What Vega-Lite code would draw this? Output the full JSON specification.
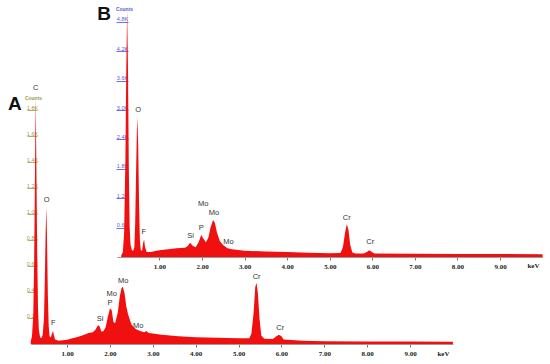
{
  "$schema": "https://vega.github.io/schema/vega-lite/v6.json",
  "width": 550,
  "height": 364,
  "padding": 0,
  "autosize": {"type": "none"},
  "background": "white",
  "config": {"view": {"stroke": null}},
  "datasets": {
    "specA": [
      {"keV": 0.15, "counts": 0.02}, {"keV": 0.18, "counts": 0.06}, {"keV": 0.21, "counts": 0.22},
      {"keV": 0.23, "counts": 0.62}, {"keV": 0.25, "counts": 1.3}, {"keV": 0.265, "counts": 1.9},
      {"keV": 0.28, "counts": 1.45}, {"keV": 0.3, "counts": 0.75}, {"keV": 0.32, "counts": 0.28},
      {"keV": 0.34, "counts": 0.11}, {"keV": 0.37, "counts": 0.05}, {"keV": 0.4, "counts": 0.045},
      {"keV": 0.43, "counts": 0.07}, {"keV": 0.46, "counts": 0.2}, {"keV": 0.48, "counts": 0.5},
      {"keV": 0.5, "counts": 0.88}, {"keV": 0.515, "counts": 1.05}, {"keV": 0.53, "counts": 0.82},
      {"keV": 0.55, "counts": 0.38}, {"keV": 0.57, "counts": 0.14}, {"keV": 0.59, "counts": 0.06},
      {"keV": 0.62, "counts": 0.05}, {"keV": 0.65, "counts": 0.085}, {"keV": 0.67, "counts": 0.1},
      {"keV": 0.69, "counts": 0.07}, {"keV": 0.72, "counts": 0.035}, {"keV": 0.8, "counts": 0.025},
      {"keV": 0.9, "counts": 0.028}, {"keV": 1.0, "counts": 0.032}, {"keV": 1.1, "counts": 0.042},
      {"keV": 1.2, "counts": 0.05}, {"keV": 1.3, "counts": 0.06}, {"keV": 1.4, "counts": 0.072},
      {"keV": 1.5, "counts": 0.085}, {"keV": 1.6, "counts": 0.09}, {"keV": 1.66, "counts": 0.11},
      {"keV": 1.72, "counts": 0.145}, {"keV": 1.76, "counts": 0.135}, {"keV": 1.8, "counts": 0.095},
      {"keV": 1.85, "counts": 0.1}, {"keV": 1.9, "counts": 0.13}, {"keV": 1.95, "counts": 0.21},
      {"keV": 2.0, "counts": 0.275}, {"keV": 2.04, "counts": 0.26}, {"keV": 2.08, "counts": 0.17},
      {"keV": 2.12, "counts": 0.16}, {"keV": 2.18, "counts": 0.24}, {"keV": 2.23, "counts": 0.37},
      {"keV": 2.27, "counts": 0.43}, {"keV": 2.3, "counts": 0.44}, {"keV": 2.34, "counts": 0.39},
      {"keV": 2.38, "counts": 0.29}, {"keV": 2.42, "counts": 0.23}, {"keV": 2.46, "counts": 0.19},
      {"keV": 2.5, "counts": 0.15}, {"keV": 2.6, "counts": 0.115}, {"keV": 2.7, "counts": 0.1},
      {"keV": 2.8, "counts": 0.09}, {"keV": 2.85, "counts": 0.1}, {"keV": 2.9, "counts": 0.085},
      {"keV": 3.0, "counts": 0.08}, {"keV": 3.2, "counts": 0.072}, {"keV": 3.4, "counts": 0.066},
      {"keV": 3.6, "counts": 0.06}, {"keV": 3.8, "counts": 0.056}, {"keV": 4.0, "counts": 0.052},
      {"keV": 4.5, "counts": 0.048}, {"keV": 5.0, "counts": 0.045}, {"keV": 5.25, "counts": 0.045},
      {"keV": 5.3, "counts": 0.08}, {"keV": 5.35, "counts": 0.24}, {"keV": 5.39, "counts": 0.44},
      {"keV": 5.42, "counts": 0.47}, {"keV": 5.45, "counts": 0.39}, {"keV": 5.49, "counts": 0.19},
      {"keV": 5.53, "counts": 0.065}, {"keV": 5.6, "counts": 0.04}, {"keV": 5.8, "counts": 0.038},
      {"keV": 5.88, "counts": 0.06}, {"keV": 5.94, "counts": 0.072}, {"keV": 6.0, "counts": 0.06},
      {"keV": 6.05, "counts": 0.035}, {"keV": 6.5, "counts": 0.025}, {"keV": 7.0, "counts": 0.022},
      {"keV": 8.0, "counts": 0.02}, {"keV": 9.0, "counts": 0.02}, {"keV": 10.0, "counts": 0.018}
    ],
    "labA": [
      {"keV": 0.265, "counts": 1.93, "el": "C"}, {"keV": 0.52, "counts": 1.07, "el": "O"},
      {"keV": 0.68, "counts": 0.123, "el": "F"}, {"keV": 1.77, "counts": 0.154, "el": "Si"},
      {"keV": 2.0, "counts": 0.28, "el": "P"}, {"keV": 2.04, "counts": 0.346, "el": "Mo"},
      {"keV": 2.31, "counts": 0.446, "el": "Mo"}, {"keV": 2.66, "counts": 0.1, "el": "Mo"},
      {"keV": 5.42, "counts": 0.477, "el": "Cr"}, {"keV": 5.97, "counts": 0.085, "el": "Cr"}
    ],
    "specB": [
      {"keV": 0.1, "counts": 0.03}, {"keV": 0.14, "counts": 0.1}, {"keV": 0.17, "counts": 0.5},
      {"keV": 0.2, "counts": 2.0}, {"keV": 0.22, "counts": 3.8}, {"keV": 0.24, "counts": 5.04},
      {"keV": 0.26, "counts": 3.9}, {"keV": 0.28, "counts": 1.8}, {"keV": 0.3, "counts": 0.6},
      {"keV": 0.32, "counts": 0.25}, {"keV": 0.35, "counts": 0.15}, {"keV": 0.38, "counts": 0.12},
      {"keV": 0.41, "counts": 0.2}, {"keV": 0.43, "counts": 0.7}, {"keV": 0.45, "counts": 1.7},
      {"keV": 0.47, "counts": 2.6}, {"keV": 0.48, "counts": 2.84}, {"keV": 0.5, "counts": 2.3},
      {"keV": 0.52, "counts": 1.1}, {"keV": 0.54, "counts": 0.35}, {"keV": 0.56, "counts": 0.15},
      {"keV": 0.59, "counts": 0.12}, {"keV": 0.62, "counts": 0.3}, {"keV": 0.64, "counts": 0.35},
      {"keV": 0.66, "counts": 0.2}, {"keV": 0.7, "counts": 0.1}, {"keV": 0.8, "counts": 0.1},
      {"keV": 0.9, "counts": 0.12}, {"keV": 1.0, "counts": 0.14}, {"keV": 1.2, "counts": 0.16},
      {"keV": 1.4, "counts": 0.18}, {"keV": 1.6, "counts": 0.19}, {"keV": 1.66, "counts": 0.22},
      {"keV": 1.72, "counts": 0.29}, {"keV": 1.78, "counts": 0.23}, {"keV": 1.85, "counts": 0.2},
      {"keV": 1.92, "counts": 0.3}, {"keV": 1.98, "counts": 0.45}, {"keV": 2.03, "counts": 0.38},
      {"keV": 2.09, "counts": 0.3}, {"keV": 2.15, "counts": 0.4}, {"keV": 2.2, "counts": 0.6},
      {"keV": 2.26, "counts": 0.755}, {"keV": 2.3, "counts": 0.7}, {"keV": 2.35, "counts": 0.5},
      {"keV": 2.42, "counts": 0.32}, {"keV": 2.5, "counts": 0.24}, {"keV": 2.6, "counts": 0.18},
      {"keV": 2.7, "counts": 0.16}, {"keV": 2.8, "counts": 0.15}, {"keV": 3.0, "counts": 0.13},
      {"keV": 3.5, "counts": 0.11}, {"keV": 4.0, "counts": 0.1}, {"keV": 4.5, "counts": 0.085},
      {"keV": 5.0, "counts": 0.075}, {"keV": 5.25, "counts": 0.08}, {"keV": 5.31, "counts": 0.2},
      {"keV": 5.36, "counts": 0.5}, {"keV": 5.4, "counts": 0.67}, {"keV": 5.44, "counts": 0.55},
      {"keV": 5.48, "counts": 0.25}, {"keV": 5.53, "counts": 0.09}, {"keV": 5.6, "counts": 0.07},
      {"keV": 5.8, "counts": 0.07}, {"keV": 5.87, "counts": 0.1}, {"keV": 5.93, "counts": 0.14},
      {"keV": 5.99, "counts": 0.1}, {"keV": 6.05, "counts": 0.07}, {"keV": 7.0, "counts": 0.065},
      {"keV": 8.0, "counts": 0.06}, {"keV": 9.0, "counts": 0.06}, {"keV": 10.0, "counts": 0.055}
    ],
    "labB": [
      {"keV": 0.5, "counts": 2.9, "el": "O"}, {"keV": 0.63, "counts": 0.4, "el": "F"},
      {"keV": 1.73, "counts": 0.32, "el": "Si"}, {"keV": 1.98, "counts": 0.5, "el": "P"},
      {"keV": 2.03, "counts": 0.97, "el": "Mo"}, {"keV": 2.28, "counts": 0.79, "el": "Mo"},
      {"keV": 2.62, "counts": 0.21, "el": "Mo"}, {"keV": 5.4, "counts": 0.69, "el": "Cr"},
      {"keV": 5.95, "counts": 0.2, "el": "Cr"}
    ],
    "tagA": [{"keV": -0.22, "counts": 1.85, "el": "A"}],
    "tagB": [{"keV": -0.3, "counts": 4.96, "el": "B"}]
  },
  "layer": [
    {
      "layer": [
        {
          "data": {"name": "specA"},
          "mark": {"type": "area", "color": "#f01010", "interpolate": "linear"},
          "encoding": {
            "x": {
              "field": "keV", "type": "quantitative", "title": "keV",
              "scale": {"domain": [0.15, 10], "range": [30.7, 452.9], "nice": false, "zero": false},
              "axis": {
                "orient": "bottom", "offset": -20, "values": [1, 2, 3, 4, 5, 6, 7, 8, 9], "format": ".2f",
                "grid": false, "domainColor": "#9a9a9a", "domainWidth": 1, "tickColor": "#777", "tickSize": 3,
                "labelFont": "Liberation Serif", "labelFontWeight": "bold", "labelFontSize": 7, "labelColor": "#222",
                "labelPadding": 2,
                "titleFont": "Liberation Serif", "titleFontWeight": "bold", "titleFontSize": 7, "titleColor": "#222",
                "titleX": 443, "titleY": 9, "titleAlign": "center", "titleBaseline": "middle"
              }
            },
            "y": {
              "field": "counts", "type": "quantitative", "title": "Counts",
              "scale": {"domain": [0, 2], "range": [344, 84], "nice": false, "zero": true},
              "axis": {
                "orient": "left", "offset": -37, "values": [0.2, 0.4, 0.6, 0.8, 1.0, 1.2, 1.4, 1.6, 1.8],
                "labelExpr": "format(datum.value, '.1f') + 'K'",
                "grid": false, "domain": false, "tickColor": "#b0b070", "tickSize": 10,
                "labelFont": "Liberation Sans", "labelFontSize": 5.5, "labelColor": "#9c9c50",
                "labelAlign": "center", "labelBaseline": "bottom", "labelPadding": -5,
                "titleFont": "Liberation Sans", "titleFontSize": 5, "titleColor": "#9c9c50", "titleAngle": 0,
                "titleX": -4, "titleY": 97, "titleAlign": "center", "titleBaseline": "middle"
              }
            }
          }
        },
        {
          "data": {"name": "labA"},
          "mark": {"type": "text", "font": "Liberation Sans", "fontSize": 7.5, "color": "#333", "baseline": "bottom", "dy": -1},
          "encoding": {
            "x": {"field": "keV", "type": "quantitative", "title": "keV"},
            "y": {"field": "counts", "type": "quantitative", "title": "Counts"},
            "text": {"field": "el"}
          }
        },
        {
          "data": {"name": "tagA"},
          "mark": {"type": "text", "font": "Liberation Sans", "fontSize": 19, "fontWeight": "bold", "color": "#111", "baseline": "middle"},
          "encoding": {
            "x": {"field": "keV", "type": "quantitative", "title": "keV"},
            "y": {"field": "counts", "type": "quantitative", "title": "Counts"},
            "text": {"field": "el"}
          }
        }
      ]
    },
    {
      "layer": [
        {
          "data": {"name": "specB"},
          "mark": {"type": "area", "color": "#f01010", "interpolate": "linear"},
          "encoding": {
            "x": {
              "field": "keV", "type": "quantitative", "title": "keV",
              "scale": {"domain": [0, 10], "range": [116.9, 542.6], "nice": false, "zero": false},
              "axis": {
                "orient": "bottom", "offset": -107, "values": [1, 2, 3, 4, 5, 6, 7, 8, 9], "format": ".2f",
                "grid": false, "domainColor": "#9a9a9a", "domainWidth": 1, "tickColor": "#777", "tickSize": 3,
                "labelFont": "Liberation Serif", "labelFontWeight": "bold", "labelFontSize": 7, "labelColor": "#222",
                "labelPadding": 2,
                "titleFont": "Liberation Serif", "titleFontWeight": "bold", "titleFontSize": 7, "titleColor": "#222",
                "titleX": 533, "titleY": 8, "titleAlign": "center", "titleBaseline": "middle"
              }
            },
            "y": {
              "field": "counts", "type": "quantitative", "title": "Counts",
              "scale": {"domain": [0, 5.2], "range": [257, 2.2], "nice": false, "zero": true},
              "axis": {
                "orient": "left", "offset": -128, "values": [0.6, 1.2, 1.8, 2.4, 3.0, 3.6, 4.2, 4.8],
                "labelExpr": "format(datum.value, '.1f') + 'K'",
                "grid": false, "domain": false, "tickColor": "#7070e0", "tickSize": 12,
                "labelFont": "Liberation Sans", "labelFontSize": 5.5, "labelColor": "#5a5ae0",
                "labelAlign": "center", "labelBaseline": "bottom", "labelPadding": -6,
                "titleFont": "Liberation Sans", "titleFontSize": 5, "titleColor": "#5a5ae0", "titleAngle": 0,
                "titleX": -4, "titleY": 8, "titleAlign": "center", "titleBaseline": "middle"
              }
            }
          }
        },
        {
          "data": {"name": "labB"},
          "mark": {"type": "text", "font": "Liberation Sans", "fontSize": 7.5, "color": "#333", "baseline": "bottom", "dy": -1},
          "encoding": {
            "x": {"field": "keV", "type": "quantitative", "title": "keV"},
            "y": {"field": "counts", "type": "quantitative", "title": "Counts"},
            "text": {"field": "el"}
          }
        },
        {
          "data": {"name": "tagB"},
          "mark": {"type": "text", "font": "Liberation Sans", "fontSize": 19, "fontWeight": "bold", "color": "#111", "baseline": "middle"},
          "encoding": {
            "x": {"field": "keV", "type": "quantitative", "title": "keV"},
            "y": {"field": "counts", "type": "quantitative", "title": "Counts"},
            "text": {"field": "el"}
          }
        }
      ]
    }
  ],
  "resolve": {
    "scale": {"x": "independent", "y": "independent"},
    "axis": {"x": "independent", "y": "independent"}
  }
}
